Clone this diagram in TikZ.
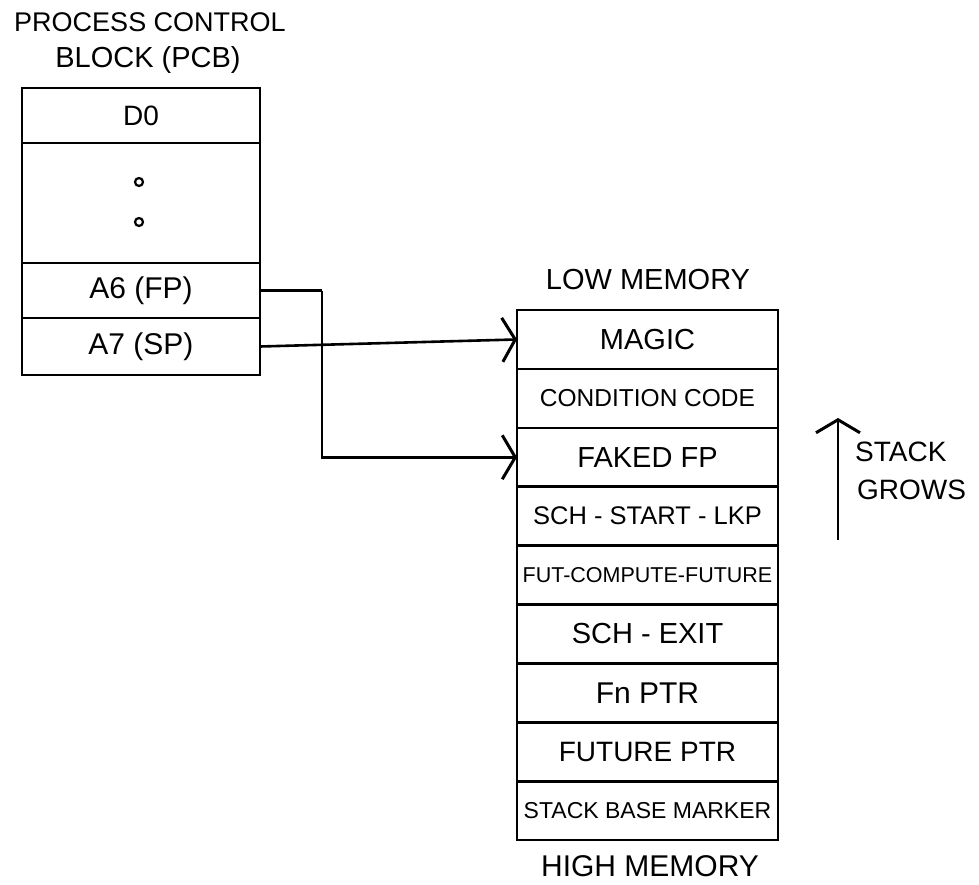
\documentclass[tikz,border=0pt]{standalone}
\usepackage{fontspec}
\setmainfont{Liberation Sans}
\usetikzlibrary{arrows.meta}
\newcommand{\fsz}[1]{\fontsize{#1}{#1}\selectfont}
\begin{document}
\begin{tikzpicture}[x=1pt,y=-1pt,
  cellbase/.style={draw, line width=2.6pt, inner sep=0pt, outer sep=0pt, anchor=north, font=\fsz{28}},
  pcbcell/.style={cellbase, minimum width=238pt, minimum height=#1},
  memcell/.style={cellbase, minimum width=261pt, minimum height=58.9pt},
  label/.style={font=\fsz{28}, inner sep=0pt},
  dotmark/.style={circle, draw, line width=2.2pt, minimum size=8pt, inner sep=0pt},
  link/.style={line width=2.6pt, -{Straight Barb[length=13pt,width=44pt,line width=3pt]}},
  plain/.style={line width=2.6pt}
]
\useasboundingbox (0,0) rectangle (979,885);

% titles
\node[label, font=\fsz{27}] (t1) at (150,22) {PROCESS CONTROL};
\node[label, font=\fsz{29}] (t2) at (148,60) {BLOCK (PCB)};

% PCB
\node[pcbcell=55pt] (d0) at (141,88) {D0};
\node[pcbcell=120pt] (dots) at (d0.south) {};
\node[pcbcell=55pt, font=\fsz{30}] (a6) at (dots.south) {A6 (FP)};
\node[pcbcell=57pt, font=\fsz{30}] (a7) at (a6.south) {A7 (SP)};
\node[dotmark] (dt1) at (139,182) {};
\node[dotmark] (dt2) at (139,222) {};

% memory stack
\node[label, font=\fsz{29}] (low) at (648,280) {LOW MEMORY};
\node[memcell, font=\fsz{29}] (m1) at (647.5,310) {MAGIC};
\node[memcell, font=\fsz{24.5}] (m2) at (m1.south) {CONDITION CODE};
\node[memcell, font=\fsz{29}] (m3) at (m2.south) {FAKED FP};
\node[memcell, font=\fsz{25.5}] (m4) at (m3.south) {SCH - START - LKP};
\node[memcell, font=\fsz{21.5}] (m5) at (m4.south) {FUT-COMPUTE-FUTURE};
\node[memcell, font=\fsz{29}] (m6) at (m5.south) {SCH - EXIT};
\node[memcell, font=\fsz{30}] (m7) at (m6.south) {Fn PTR};
\node[memcell, font=\fsz{28}] (m8) at (m7.south) {FUTURE PTR};
\node[memcell, font=\fsz{23}] (m9) at (m8.south) {STACK BASE MARKER};
\node[label, font=\fsz{30}] (high) at (650,866) {HIGH MEMORY};

% connectors
\draw[plain] (a6.east) -- ++(62,0) coordinate (bend);
\draw[link] (bend) |- (m3.west);
\draw[link] (a7.east) -- (m1.west);

% stack grows
\coordinate (sgb) at (838,540);
\coordinate (sgt) at (838,418);
\draw[link] (sgb) -- (sgt);
\node[label, anchor=west] (stk) at (855,452) {STACK};
\node[label, anchor=west] (grw) at (857,490) {GROWS};
\end{tikzpicture}
\end{document}
